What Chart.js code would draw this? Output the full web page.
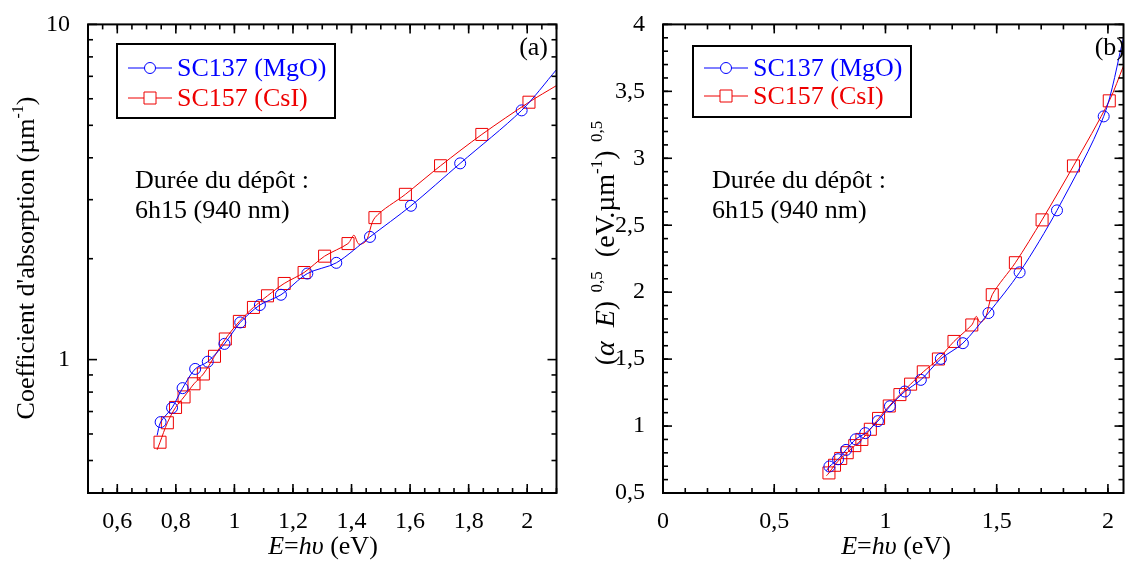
<!DOCTYPE html>
<html>
<head>
<meta charset="utf-8">
<script src="https://cdn.jsdelivr.net/npm/chart.js@4.4.1/dist/chart.umd.min.js"></script>
<style>
  html, body { margin: 0; padding: 0; background: #fff; }
  #wrap { position: relative; width: 1133px; height: 561px; }
  canvas { position: absolute; top: 0; }
  #left { left: 0; }
  #right { left: 566px; }
</style>
</head>
<body>
<div id="wrap">
  <canvas id="left" width="566" height="561"></canvas>
  <canvas id="right" width="567" height="561"></canvas>
</div>
<script>
// SC137 (MgO) : marker points
const mgoE     = [0.748, 0.787, 0.823, 0.866, 0.909, 0.966, 1.020, 1.087, 1.159, 1.249, 1.348, 1.463, 1.603, 1.771, 1.981];
const mgoAlpha = [0.651, 0.718, 0.822, 0.938, 0.986, 1.114, 1.291, 1.455, 1.561, 1.806, 1.944, 2.323, 2.877, 3.85, 5.54];
const mgoRoot  = [0.698, 0.752, 0.822, 0.901, 0.947, 1.037, 1.148, 1.258, 1.345, 1.502, 1.619, 1.844, 2.148, 2.611, 3.313];
// SC137 curve points without marker (ends of the curve)
const mgoTailE     = [0.736, 2.1];
const mgoTailAlpha = [0.594, 7.33];
const mgoTailRootE = [0.735, 2.07];
const mgoTailRoot  = [0.666, 3.90];

// SC157 (CsI) : marker points
const csiE     = [0.746, 0.771, 0.799, 0.828, 0.862, 0.894, 0.932, 0.969, 1.017, 1.065, 1.113, 1.170, 1.238, 1.308, 1.388, 1.480, 1.584, 1.704, 1.845, 2.006];
const csiAlpha = [0.567, 0.648, 0.720, 0.774, 0.847, 0.906, 1.023, 1.152, 1.300, 1.431, 1.550, 1.687, 1.819, 2.035, 2.219, 2.652, 3.112, 3.787, 4.696, 5.86];
const csiRoot  = [0.650, 0.707, 0.758, 0.801, 0.854, 0.900, 0.976, 1.057, 1.150, 1.235, 1.313, 1.405, 1.501, 1.632, 1.755, 1.981, 2.220, 2.540, 2.943, 3.429];
// SC157 curve points without marker (ends and the glitch near 1.4 eV)
const csiTailE     = [0.736, 1.408, 1.425, 1.450, 2.1];
const csiTailAlpha = [0.538, 2.35, 2.21, 2.26, 6.57];
const csiTailRootE = [0.735, 1.408, 1.425, 1.450, 2.07];
const csiTailRoot  = [0.629, 1.819, 1.775, 1.810, 3.69];

// axis ticks
const leftXTicks  = [0.6, 0.8, 1, 1.2, 1.4, 1.6, 1.8, 2];
const leftYTicks  = [1, 10];
const leftYMinor  = [0.4, 0.5, 0.6, 0.7, 0.8, 0.9, 2, 3, 4, 5, 6, 7, 8, 9];
const rightXTicks = [0, 0.5, 1, 1.5, 2];
const rightYTicks = [0.5, 1, 1.5, 2, 2.5, 3, 3.5, 4];

const FAMILY = '"Liberation Serif", "Times New Roman", serif';
const BLUE = '#0000ff';
const RED = '#ee0000';
const FS = 26;

function range(start, stop, step) {
  const out = [];
  for (let i = 0; start + i * step <= stop + 1e-9; i++) out.push(+(start + i * step).toFixed(3));
  return out;
}
const fmt = v => String(v).replace('.', ',');

function points(xs, ys) {
  return xs.map((x, i) => ({ x: x, y: ys[i] }));
}
function curve(xs, ys, tx, ty) {
  return points(xs, ys).concat(points(tx, ty)).sort((a, b) => a.x - b.x);
}

// text made of runs: {t, i: italic, s: superscript}
function drawRuns(ctx, parts, cx, cy, size, color) {
  const font = p => (p.i ? 'italic ' : '') + (p.s ? Math.round(size * 0.62) : size) + 'px ' + FAMILY;
  let w = 0;
  parts.forEach(p => { ctx.font = font(p); p.w = ctx.measureText(p.t).width; w += p.w; });
  let x = cx - w / 2;
  ctx.textAlign = 'left';
  ctx.textBaseline = 'alphabetic';
  ctx.fillStyle = color;
  parts.forEach(p => {
    ctx.font = font(p);
    ctx.fillText(p.t, x, cy + (p.s ? -size * 0.42 : 0));
    x += p.w;
  });
}

const decor = {
  id: 'decor',
  afterDraw(chart, args, o) {
    const ctx = chart.ctx;
    const a = chart.chartArea;
    const x = chart.scales.x, y = chart.scales.y;
    ctx.save();
    ctx.strokeStyle = '#000';
    ctx.lineWidth = 1.6;
    const seg = (x1, y1, x2, y2) => { ctx.beginPath(); ctx.moveTo(x1, y1); ctx.lineTo(x2, y2); ctx.stroke(); };
    const xt = (vals, len) => vals.forEach(v => {
      const p = x.getPixelForValue(v);
      if (p < a.left - 0.5 || p > a.right + 0.5) return;
      seg(p, a.bottom, p, a.bottom - len); seg(p, a.top, p, a.top + len);
    });
    const yt = (vals, len) => vals.forEach(v => {
      const p = y.getPixelForValue(v);
      if (p < a.top - 0.5 || p > a.bottom + 0.5) return;
      seg(a.left, p, a.left + len, p); seg(a.right, p, a.right - len, p);
    });
    xt(o.xMinor, 5); xt(o.xMajor, 9);
    yt(o.yMinor, 5); yt(o.yMajor, 9);
    ctx.lineWidth = 2;
    ctx.strokeRect(a.left, a.top, a.right - a.left, a.bottom - a.top);

    // legend
    const L = o.legend;
    ctx.fillStyle = '#fff';
    ctx.fillRect(L.x, L.y, L.w, L.h);
    ctx.lineWidth = 2;
    ctx.strokeStyle = '#000';
    ctx.strokeRect(L.x, L.y, L.w, L.h);
    const rows = [
      { label: 'SC137 (MgO)', color: BLUE, shape: 'circle', y: L.rows[0] },
      { label: 'SC157 (CsI)', color: RED, shape: 'rect', y: L.rows[1] }
    ];
    rows.forEach(r => {
      ctx.strokeStyle = r.color;
      ctx.lineWidth = 1;
      seg(L.lx1, r.y, L.lx2, r.y);
      const mx = (L.lx1 + L.lx2) / 2;
      ctx.beginPath();
      if (r.shape === 'circle') ctx.arc(mx, r.y, 5.5, 0, Math.PI * 2);
      else ctx.rect(mx - 6, r.y - 6, 12, 12);
      ctx.fillStyle = '#fff';
      ctx.fill();
      ctx.stroke();
      ctx.fillStyle = r.color;
      ctx.font = FS + 'px ' + FAMILY;
      ctx.textAlign = 'left';
      ctx.textBaseline = 'middle';
      ctx.fillText(r.label, L.tx, r.y + 1);
    });

    // note and panel tag
    ctx.fillStyle = '#000';
    ctx.font = '26px ' + FAMILY;
    ctx.textBaseline = 'middle';
    ctx.textAlign = 'left';
    ctx.fillText('Durée du dépôt :', o.note.x, o.note.y1);
    ctx.fillText('6h15 (940 nm)', o.note.x, o.note.y2);
    ctx.textAlign = 'right';
    ctx.fillText(o.tag.t, o.tag.x, o.tag.y);

    // axis titles
    drawRuns(ctx, [{ t: 'E', i: true }, { t: '=' }, { t: 'hυ', i: true }, { t: ' (eV)' }], o.xTitle.x, o.xTitle.y, FS, '#000');
    ctx.translate(o.yTitle.x, o.yTitle.y);
    ctx.rotate(-Math.PI / 2);
    drawRuns(ctx, o.yTitle.parts, 0, 0, o.yTitle.size, '#000');
    ctx.restore();
  }
};

function makeChart(id, cfg) {
  const tickFont = { family: FAMILY, size: 24 };
  return new Chart(document.getElementById(id), {
    type: 'scatter',
    data: {
      datasets: [
        { data: cfg.mgoLine, showLine: true, pointRadius: 0, borderColor: BLUE, borderWidth: 1, tension: 0.3 },
        { data: cfg.csiLine, showLine: true, pointRadius: 0, borderColor: RED, borderWidth: 1, tension: 0.3 },
        { data: cfg.mgoPts, pointStyle: 'circle', pointRadius: 5.5, borderColor: BLUE, backgroundColor: 'rgba(0,0,0,0)', borderWidth: 1 },
        { data: cfg.csiPts, pointStyle: 'rect', pointRadius: 8.5, borderColor: RED, backgroundColor: 'rgba(0,0,0,0)', borderWidth: 1 }
      ]
    },
    options: {
      responsive: false,
      animation: false,
      devicePixelRatio: 1,
      layout: { padding: cfg.padding },
      plugins: { legend: { display: false }, tooltip: { enabled: false }, decor: cfg.decor },
      scales: {
        x: {
          type: 'linear', min: cfg.xMin, max: cfg.xMax,
          grid: { display: false }, border: { display: false },
          ticks: { font: tickFont, color: '#000', padding: 6, autoSkip: false, maxRotation: 0, callback: v => fmt(v) },
          afterBuildTicks: s => { s.ticks = cfg.xTicks.map(v => ({ value: v })); },
          afterFit: s => { s.height = 68; }
        },
        y: {
          type: cfg.yType, min: cfg.yMin, max: cfg.yMax,
          grid: { display: false }, border: { display: false },
          ticks: { font: tickFont, color: '#000', padding: 10, autoSkip: false, callback: v => fmt(v) },
          afterBuildTicks: s => { s.ticks = cfg.yTicks.map(v => ({ value: v })); },
          afterFit: s => { s.width = cfg.yWidth; }
        }
      }
    },
    plugins: [decor]
  });
}

makeChart('left', {
  mgoLine: curve(mgoE, mgoAlpha, mgoTailE, mgoTailAlpha),
  csiLine: curve(csiE, csiAlpha, csiTailE, csiTailAlpha),
  mgoPts: points(mgoE, mgoAlpha),
  csiPts: points(csiE, csiAlpha),
  xMin: 0.5, xMax: 2.1, xTicks: leftXTicks,
  yType: 'logarithmic', yMin: 0.4, yMax: 10, yTicks: leftYTicks,
  yWidth: 88,
  padding: { top: 23, right: 8, left: 0, bottom: 0 },
  decor: {
    xMajor: leftXTicks, xMinor: range(0.5, 2.1, 0.05),
    yMajor: leftYTicks, yMinor: leftYMinor,
    legend: { x: 117, y: 44, w: 218, h: 74, rows: [68, 98], lx1: 128, lx2: 172, tx: 177 },
    note: { x: 135, y1: 181, y2: 211 },
    tag: { t: '(a)', x: 548, y: 48 },
    xTitle: { x: 323, y: 554 },
    yTitle: { x: 34, y: 258, size: 26, parts: [{ t: "Coefficient d'absorption (µm" }, { t: '-1', s: true }, { t: ')' }] }
  }
});

makeChart('right', {
  mgoLine: curve(mgoE, mgoRoot, mgoTailRootE, mgoTailRoot),
  csiLine: curve(csiE, csiRoot, csiTailRootE, csiTailRoot),
  mgoPts: points(mgoE, mgoRoot),
  csiPts: points(csiE, csiRoot),
  xMin: 0, xMax: 2.07, xTicks: rightXTicks,
  yType: 'linear', yMin: 0.5, yMax: 4, yTicks: rightYTicks,
  yWidth: 97,
  padding: { top: 23, right: 4, left: 0, bottom: 0 },
  decor: {
    xMajor: rightXTicks, xMinor: range(0, 2.07, 0.1),
    yMajor: rightYTicks, yMinor: range(0.5, 4, 0.1),
    legend: { x: 127, y: 46, w: 218, h: 71, rows: [68, 96], lx1: 138, lx2: 182, tx: 187 },
    note: { x: 146, y1: 181, y2: 211 },
    tag: { t: '(b)', x: 559, y: 48 },
    xTitle: { x: 330, y: 554 },
    yTitle: { x: 48, y: 243, size: 28, parts: [{ t: '(' }, { t: 'α  E', i: true }, { t: ')' }, { t: '  0,5', s: true }, { t: '  (eV.µm' }, { t: '-1', s: true }, { t: ')' }, { t: '  0,5', s: true }] }
  }
});
</script>
</body>
</html>
